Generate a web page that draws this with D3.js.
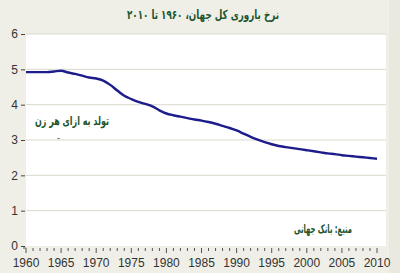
<!DOCTYPE html>
<html>
<head>
<meta charset="utf-8">
<script src="https://cdn.jsdelivr.net/npm/d3@7"></script>
<style>
  body { margin: 0; background: #efefe7; }
  svg { display: block; }
</style>
</head>
<body>
<svg id="chart" width="400" height="273"></svg>
<script>
// world total fertility rate
const years = d3.range(1960, 2011);
const fertility = [
  4.92, 4.92, 4.92, 4.92, 4.94, 4.96, 4.91, 4.87, 4.82, 4.77,
  4.74, 4.68, 4.56, 4.40, 4.25, 4.16, 4.08, 4.02, 3.95, 3.84,
  3.75, 3.70, 3.66, 3.62, 3.58, 3.55, 3.51, 3.46, 3.40, 3.34,
  3.27, 3.18, 3.09, 3.01, 2.94, 2.88, 2.83, 2.80, 2.77, 2.74,
  2.71, 2.68, 2.65, 2.62, 2.60, 2.57, 2.55, 2.53, 2.51, 2.49,
  2.47
];
const yTicks = [0, 1, 2, 3, 4, 5, 6];
const xLabels = [1960, 1965, 1970, 1975, 1980, 1985, 1990, 1995, 2000, 2005, 2010];

const titleText = "نرخ باروری کل جهان، ۱۹۶۰ تا ۲۰۱۰";
const unitText = "تولد به ازای هر زن";
const sourceText = "منبع: بانک جهانی";

const svg = d3.select("#chart");
const green = "#1d5630";

// plot box
const plotL = 26, plotR = 386, plotT = 34, plotB = 246;

const x = d3.scaleLinear().domain([1960, 2010]).range([plotL, 377]);
const y = d3.scaleLinear().domain([0, 6]).range([plotB, plotT]);

// faint band on the right edge
svg.append("rect")
  .attr("x", 389).attr("y", 0).attr("width", 11).attr("height", 273)
  .attr("fill", "#e9e9e0");

svg.append("rect")
  .attr("x", plotL).attr("y", plotT)
  .attr("width", plotR - plotL).attr("height", plotB - plotT)
  .attr("fill", "#ffffff");

// gridlines
svg.append("g")
  .selectAll("line")
  .data(yTicks.filter(d => d > 0))
  .join("line")
  .attr("x1", plotL).attr("x2", plotR)
  .attr("y1", d => y(d)).attr("y2", d => y(d))
  .attr("stroke", "#d9d9cc")
  .attr("stroke-width", 1);

// y axis: labels with short dash ticks
const yAxis = svg.append("g")
  .attr("transform", `translate(${plotL - 1},0)`)
  .call(d3.axisLeft(y).tickValues(yTicks).tickSize(4).tickPadding(3).tickFormat(d3.format("d")));
yAxis.select(".domain").remove();
yAxis.selectAll(".tick line").attr("stroke", "#444");
yAxis.selectAll(".tick text")
  .attr("fill", "#333")
  .style("font-family", "Liberation Sans, Arial, sans-serif")
  .style("font-size", "12px");

// x axis: minor tick each year, longer each five years
const xAxis = svg.append("g").attr("transform", `translate(0,${plotB + 1})`);
xAxis.selectAll("line")
  .data(years)
  .join("line")
  .attr("x1", d => x(d)).attr("x2", d => x(d))
  .attr("y1", 1)
  .attr("y2", d => d % 5 === 0 ? 6 : 4)
  .attr("stroke", "#555")
  .attr("stroke-width", 1);
xAxis.append("line")
  .attr("x1", plotL - 3).attr("x2", plotL)
  .attr("y1", 1).attr("y2", 1)
  .attr("stroke", "#555");
xAxis.selectAll("text")
  .data(xLabels)
  .join("text")
  .attr("x", d => x(d))
  .attr("y", 20)
  .attr("text-anchor", "middle")
  .attr("fill", "#333")
  .style("font-family", "Liberation Sans, Arial, sans-serif")
  .style("font-size", "12px")
  .text(d => d);

// the series
const line = d3.line()
  .x((d, i) => x(years[i]))
  .y(d => y(d))
  .curve(d3.curveMonotoneX);

svg.append("path")
  .datum(fertility)
  .attr("d", line)
  .attr("fill", "none")
  .attr("stroke", "#1c1c8a")
  .attr("stroke-width", 2.4)
  .attr("stroke-linejoin", "round");

// persian texts, squeezed to the widths seen in the picture
function label(txt, cx, cy, width, size) {
  svg.append("text")
    .attr("x", cx).attr("y", cy)
    .attr("text-anchor", "middle")
    .attr("direction", "rtl")
    .attr("textLength", width)
    .attr("lengthAdjust", "spacingAndGlyphs")
    .attr("fill", green)
    .style("font-family", "DejaVu Sans, sans-serif")
    .style("font-weight", "bold")
    .style("font-size", size + "px")
    .text(txt);
}
label(titleText, 203, 19, 152, 12.5);
label(unitText, 72, 125, 74, 12);
label(sourceText, 323, 233, 58, 12);

svg.append("text")
  .attr("x", 57).attr("y", 141)
  .attr("fill", "#333")
  .style("font-family", "Liberation Sans, Arial, sans-serif")
  .style("font-size", "9px")
  .text("-");
</script>
</body>
</html>
